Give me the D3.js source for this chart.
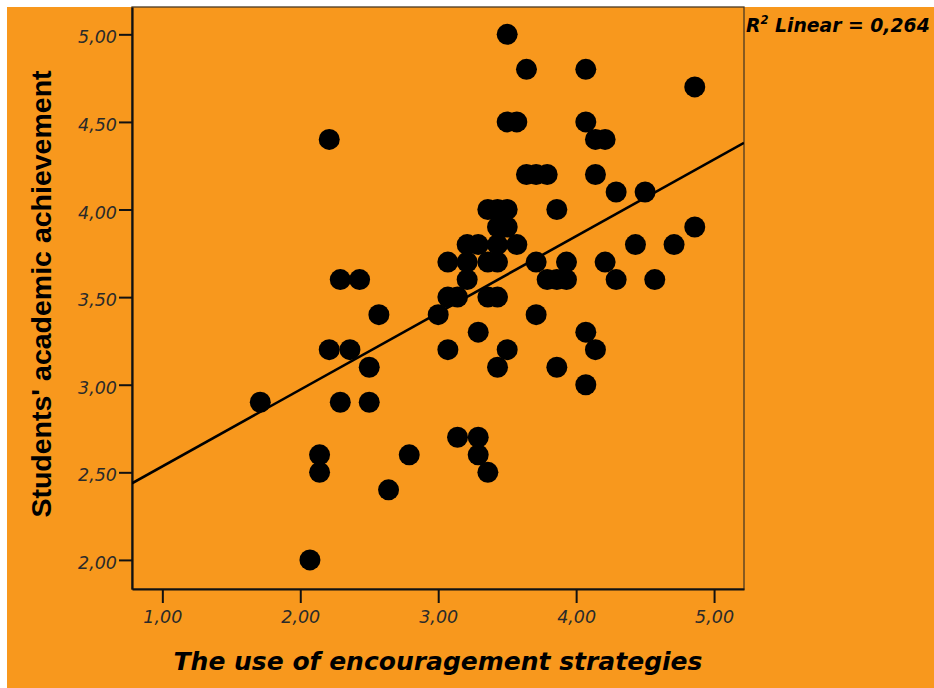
<!DOCTYPE html>
<html>
<head>
<meta charset="utf-8">
<script src="https://cdn.jsdelivr.net/npm/d3@7"></script>
<style>
  html, body { margin: 0; padding: 0; background: #ffffff; }
  svg { display: block; }
</style>
</head>
<body>
<svg id="chart" width="934" height="688"></svg>
<script>
// ---- data ----
const xValues = [
  3.50,
  3.64, 4.07,
  4.86,
  3.50, 3.57, 4.07,
  2.21, 4.14, 4.21,
  3.64, 3.71, 3.79, 4.14,
  4.29, 4.50,
  3.36, 3.43, 3.50, 3.86,
  3.43, 3.50, 4.86,
  3.21, 3.29, 3.43, 3.57, 4.43, 4.71,
  3.07, 3.21, 3.36, 3.43, 3.71, 3.93, 4.21,
  2.29, 2.43, 3.21, 3.79, 3.86, 3.93, 4.29, 4.57,
  3.07, 3.14, 3.36, 3.43,
  2.57, 3.00, 3.71,
  3.29, 4.07,
  2.21, 2.36, 3.07, 3.50, 4.14,
  2.50, 3.43, 3.86,
  4.07,
  1.71, 2.29, 2.50,
  3.14, 3.29,
  2.14, 2.79, 3.29,
  2.14, 3.36,
  2.64,
  2.07
];
const yValues = [
  5.0,
  4.8, 4.8,
  4.7,
  4.5, 4.5, 4.5,
  4.4, 4.4, 4.4,
  4.2, 4.2, 4.2, 4.2,
  4.1, 4.1,
  4.0, 4.0, 4.0, 4.0,
  3.9, 3.9, 3.9,
  3.8, 3.8, 3.8, 3.8, 3.8, 3.8,
  3.7, 3.7, 3.7, 3.7, 3.7, 3.7, 3.7,
  3.6, 3.6, 3.6, 3.6, 3.6, 3.6, 3.6, 3.6,
  3.5, 3.5, 3.5, 3.5,
  3.4, 3.4, 3.4,
  3.3, 3.3,
  3.2, 3.2, 3.2, 3.2, 3.2,
  3.1, 3.1, 3.1,
  3.0,
  2.9, 2.9, 2.9,
  2.7, 2.7,
  2.6, 2.6, 2.6,
  2.5, 2.5,
  2.4,
  2.0
];
const xTicks = [1, 2, 3, 4, 5];
const xTickLabels = ["1,00", "2,00", "3,00", "4,00", "5,00"];
const yTicks = [2, 2.5, 3, 3.5, 4, 4.5, 5];
const yTickLabels = ["2,00", "2,50", "3,00", "3,50", "4,00", "4,50", "5,00"];
const fitIntercept = 2.096;
const fitSlope = 0.438;
const r2Text = "0,264";
const xTitle = "The use of encouragement strategies";
const yTitle = "Students' academic achievement";

// ---- layout ----
const W = 934, H = 688;
const plot = { left: 132, right: 744, top: 7, bottom: 589 };
const orange = "#F8981D";

const svg = d3.select("#chart");

svg.append("rect").attr("x", 7).attr("y", 7).attr("width", W - 7).attr("height", H - 7)
  .attr("fill", orange);

const x = d3.scaleLinear().domain([0.78, 5.217]).range([plot.left, plot.right]);
const y = d3.scaleLinear().domain([1.834, 5.156]).range([plot.bottom, plot.top]);

// plot frame (top/right thin)
svg.append("rect")
  .attr("x", plot.left).attr("y", plot.top)
  .attr("width", plot.right - plot.left).attr("height", plot.bottom - plot.top)
  .attr("fill", orange).attr("stroke", "#4a3a22").attr("stroke-width", 1.3);

const tickFont = "'DejaVu Sans', Verdana, sans-serif";

// y axis
const yAxis = d3.axisLeft(y)
  .tickValues(yTicks)
  .tickFormat((d, i) => yTickLabels[i])
  .tickSize(13).tickSizeOuter(0).tickPadding(2);
const gy = svg.append("g").attr("transform", `translate(${plot.left},0)`).call(yAxis);
gy.select(".domain").attr("stroke", "#111").attr("stroke-width", 2.2);
gy.selectAll(".tick line").attr("stroke", "#111").attr("stroke-width", 2);
gy.selectAll(".tick text")
  .attr("dy", null).attr("y", 8.5)
  .style("font-family", tickFont).style("font-style", "italic")
  .style("font-size", "17.5px").attr("fill", "#2a2a2a");

// x axis
const xAxis = d3.axisBottom(x)
  .tickValues(xTicks)
  .tickFormat((d, i) => xTickLabels[i])
  .tickSize(14).tickSizeOuter(0);
const gx = svg.append("g").attr("transform", `translate(0,${plot.bottom})`).call(xAxis);
gx.select(".domain").attr("stroke", "#111").attr("stroke-width", 2.2);
gx.selectAll(".tick line").attr("stroke", "#111").attr("stroke-width", 2);
gx.selectAll(".tick text")
  .attr("dy", null).attr("y", 34)
  .style("font-family", tickFont).style("font-style", "italic")
  .style("font-size", "17.5px").attr("fill", "#2a2a2a");

// clip for plot content
svg.append("clipPath").attr("id", "plotclip")
  .append("rect").attr("x", plot.left).attr("y", plot.top)
  .attr("width", plot.right - plot.left).attr("height", plot.bottom - plot.top);

const content = svg.append("g").attr("clip-path", "url(#plotclip)");

// points
const pts = xValues.map((v, i) => ({ x: v, y: yValues[i] }));
content.selectAll("circle.pt").data(pts).enter().append("circle")
  .attr("class", "pt")
  .attr("cx", d => x(d.x)).attr("cy", d => y(d.y))
  .attr("r", 10.5).attr("fill", "#000");

// fit line
const [x0, x1] = x.domain();
content.append("line")
  .attr("x1", x(x0)).attr("y1", y(fitIntercept + fitSlope * x0))
  .attr("x2", x(x1)).attr("y2", y(fitIntercept + fitSlope * x1))
  .attr("stroke", "#000").attr("stroke-width", 2.6);

// axis titles
svg.append("text")
  .attr("x", (plot.left + plot.right) / 2).attr("y", 670)
  .attr("text-anchor", "middle")
  .style("font-family", "'DejaVu Sans', Verdana, sans-serif")
  .style("font-weight", "bold").style("font-style", "italic")
  .style("font-size", "25px").attr("fill", "#000")
  .text(xTitle);

svg.append("text")
  .attr("transform", `translate(51,294) rotate(-90)`)
  .attr("text-anchor", "middle")
  .style("font-family", "'Liberation Sans', Arial, sans-serif")
  .style("font-weight", "bold")
  .style("font-size", "28.5px").attr("fill", "#000")
  .text(yTitle);

// R² annotation
const r2 = svg.append("text")
  .attr("x", 746).attr("y", 32)
  .style("font-family", "'DejaVu Sans', Verdana, sans-serif")
  .style("font-weight", "bold").style("font-style", "italic")
  .style("font-size", "18.8px").attr("fill", "#000");
r2.append("tspan").text("R");
r2.append("tspan").attr("dy", -8).style("font-size", "11.5px").text("2");
r2.append("tspan").attr("dy", 8).text(" Linear = " + r2Text);
</script>
</body>
</html>
